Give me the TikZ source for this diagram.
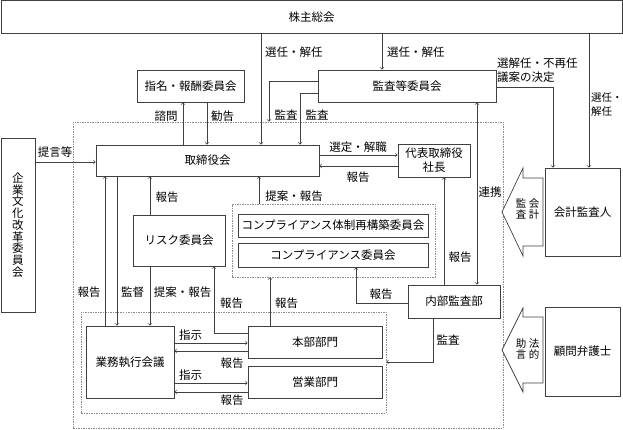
\documentclass[tikz,border=0pt]{standalone}
\usepackage{fontspec}
\setmainfont{Noto Sans CJK JP}

\begin{document}
\begin{tikzpicture}[x = 1pt, y = -1pt,
  font = \fontsize{11.5pt}{14pt}\selectfont,
  box/.style = {draw = black!75, line width = 0.8pt, inner sep = 0pt},
  frm/.style = {draw = black!45, line width = 0.6pt, dash pattern = on 1.5pt off 1pt},
  arr/.style = {draw = black!75, line width = 0.7pt, ->},
  lbl/.style = {inner sep = 0pt},
  big/.style = {draw = black!75, line width = 0.7pt, fill = white},
  small/.style = {inner sep = 0pt, align = center, font = \fontsize{10.5pt}{11pt}\selectfont}]
\useasboundingbox (0, 0) rectangle (623, 430);

\node[frm, minimum width = 430pt, minimum height = 306pt] (outer) at (288, 275) {};
\node[frm, minimum width = 203pt, minimum height = 73pt] (compfrm) at (333.5, 240.5) {};
\node[frm, minimum width = 305pt, minimum height = 101pt] (execfrm) at (233.5, 362.5) {};

\node[box, minimum width = 621pt, minimum height = 33pt] (kabunushi) at (311.5, 17) {株主総会};
\node[box, minimum width = 107pt, minimum height = 32pt] (shimei) at (190.5, 86) {指名・報酬委員会};
\node[box, minimum width = 178pt, minimum height = 32pt] (kansatou) at (407, 86) {監査等委員会};
\node[box, minimum width = 223pt, minimum height = 31pt] (torishimari) at (207.5, 160.5) {取締役会};
\node[box, minimum width = 72pt, minimum height = 33pt, align = center] (daihyo) at (434, 160.5) {代表取締役\\社長};
\node[box, minimum width = 34pt, minimum height = 174pt, align = center,
  font = \fontsize{11.5pt}{11.7pt}\selectfont] (kigyo) at (18, 225) {企\\業\\文\\化\\改\\革\\委\\員\\会};
\node[box, minimum width = 92pt, minimum height = 51pt] (risk) at (179, 240.5) {リスク委員会};
\node[box, minimum width = 190pt, minimum height = 23pt] (comp1) at (333, 225.5) {コンプライアンス体制再構築委員会};
\node[box, minimum width = 190pt, minimum height = 24pt] (comp2) at (333, 255) {コンプライアンス委員会};
\node[box, minimum width = 92pt, minimum height = 33pt] (naibu) at (454, 301.5) {内部監査部};
\node[box, minimum width = 88pt, minimum height = 72pt] (gyomu) at (130, 362) {業務執行会議};
\node[box, minimum width = 134pt, minimum height = 32pt] (honbu) at (315, 342) {本部部門};
\node[box, minimum width = 134pt, minimum height = 32pt] (eigyo) at (315, 382) {営業部門};
\node[box, minimum width = 75pt, minimum height = 88pt] (kaikei) at (582.5, 212) {会計監査人};
\node[box, minimum width = 75pt, minimum height = 89pt] (komon) at (582.5, 351.5) {顧問弁護士};

\draw[big] (502, 212) -- (523, 168) -- (523, 178) -- (543, 178) -- (543, 246) -- (523, 246) -- (523, 256) -- cycle;
\node[small] (kansaL) at (521, 209) {監\\査};
\node[small] (kaikeiL) at (534, 209) {会\\計};
\draw[big] (502, 350) -- (523, 308) -- (523, 317) -- (543, 317) -- (543, 383) -- (523, 383) -- (523, 392) -- cycle;
\node[small] (jogenL) at (521, 349) {助\\言};
\node[small] (hotekiL) at (534, 349) {法\\的};

\coordinate (sen1) at (261, 0);
\coordinate (sen2) at (382, 0);
\coordinate (sen3) at (589, 0);
\coordinate (fusai) at (553, 87);
\coordinate (shimon) at (183, 0);
\coordinate (kankoku) at (207, 0);
\coordinate (kansa1) at (269, 81);
\coordinate (kansa2) at (300, 93);
\coordinate (renkei) at (477, 0);
\coordinate (teigen) at (0, 162);
\coordinate (sentei) at (0, 155);
\coordinate (dhokoku) at (0, 166);
\coordinate (rhokoku) at (150, 0);
\coordinate (cteian) at (259, 0);
\coordinate (nhokoku) at (444, 0);
\coordinate (chokoku) at (356, 303);
\coordinate (nkansa) at (433, 362);
\coordinate (ghokoku) at (105, 0);
\coordinate (kantoku) at (117, 0);
\coordinate (hhokoku1) at (214, 333);
\coordinate (hhokoku2) at (270, 0);
\coordinate (shiji1) at (0, 343);
\coordinate (hokoku1) at (0, 351);
\coordinate (shiji2) at (0, 383);
\coordinate (hokoku2) at (0, 392);

\draw[arr] (kabunushi.south -| sen1) -- (torishimari.north -| sen1);
\draw[arr] (kabunushi.south -| sen2) -- (kansatou.north -| sen2);
\draw[arr] (kabunushi.south -| sen3) -- (kaikei.north -| sen3);
\draw[arr] (kansatou.east |- fusai) -| (kaikei.north -| fusai);
\draw[arr] (torishimari.north -| shimon) -- (shimei.south -| shimon);
\draw[arr] (shimei.south -| kankoku) -- (torishimari.north -| kankoku);
\draw[arr] (kansatou.west |- kansa1) -| (outer.north -| kansa1);
\draw[arr] (kansatou.west |- kansa2) -| (torishimari.north -| kansa2);
\draw[arr, <->] (kansatou.south -| renkei) -- (naibu.north -| renkei);
\draw[arr] (kigyo.east |- teigen) -- (torishimari.west |- teigen);
\draw[arr] (torishimari.east |- sentei) -- (daihyo.west |- sentei);
\draw[arr] (daihyo.west |- dhokoku) -- (torishimari.east |- dhokoku);
\draw[arr] (risk.north -| rhokoku) -- (torishimari.south -| rhokoku);
\draw[arr] (compfrm.north -| cteian) -- (torishimari.south -| cteian);
\draw[arr] (naibu.north -| nhokoku) -- (daihyo.south -| nhokoku);
\draw[arr] (naibu.west |- chokoku) -| (comp2.south -| chokoku);
\draw[arr] (naibu.south -| nkansa) |- (execfrm.east |- nkansa);
\draw[arr] (gyomu.north -| ghokoku) -- (torishimari.south -| ghokoku);
\draw[arr] (torishimari.south -| kantoku) -- (gyomu.north -| kantoku);
\draw[arr] (risk.south -| rhokoku) -- (gyomu.north -| rhokoku);
\draw[arr] (honbu.west |- hhokoku1) -| (risk.south -| hhokoku1);
\draw[arr] (honbu.north -| hhokoku2) -- (compfrm.south -| hhokoku2);
\draw[arr] (gyomu.east |- shiji1) -- (honbu.west |- shiji1);
\draw[arr] (honbu.west |- hokoku1) -- (gyomu.east |- hokoku1);
\draw[arr] (gyomu.east |- shiji2) -- (eigyo.west |- shiji2);
\draw[arr] (eigyo.west |- hokoku2) -- (gyomu.east |- hokoku2);

\node[lbl, anchor = west] (l1) at (265, 52) {選任・解任};
\node[lbl, anchor = west] (l2) at (387, 52) {選任・解任};
\node[lbl, anchor = west, align = left, font = \fontsize{10.5pt}{14pt}\selectfont] (l3) at (591, 105) {選任・\\解任};
\node[lbl, anchor = west, align = left] (l4) at (497, 70) {選解任・不再任\\議案の決定};
\node[lbl] (l5) at (166, 116) {諮問};
\node[lbl] (l6) at (222.5, 116) {勧告};
\node[lbl] (l7) at (286, 115) {監査};
\node[lbl] (l8) at (317, 115) {監査};
\node[lbl] (l9) at (490, 192) {連携};
\node[lbl] (l10) at (55, 152) {提言等};
\node[lbl] (l11) at (358, 147) {選定・解職};
\node[lbl] (l12) at (358, 177) {報告};
\node[lbl] (l13) at (167, 197) {報告};
\node[lbl] (l14) at (294, 196) {提案・報告};
\node[lbl] (l15) at (460, 257) {報告};
\node[lbl] (l16) at (381, 294) {報告};
\node[lbl] (l17) at (448, 340) {監査};
\node[lbl] (l18) at (89, 292) {報告};
\node[lbl] (l19) at (132.5, 292) {監督};
\node[lbl] (l20) at (182.5, 292) {提案・報告};
\node[lbl] (l21) at (231.5, 303) {報告};
\node[lbl] (l22) at (286.5, 303) {報告};
\node[lbl] (l23) at (190.5, 335) {指示};
\node[lbl] (l24) at (232, 363) {報告};
\node[lbl] (l25) at (190.5, 375) {指示};
\node[lbl] (l26) at (232, 400) {報告};
\end{tikzpicture}
\end{document}
